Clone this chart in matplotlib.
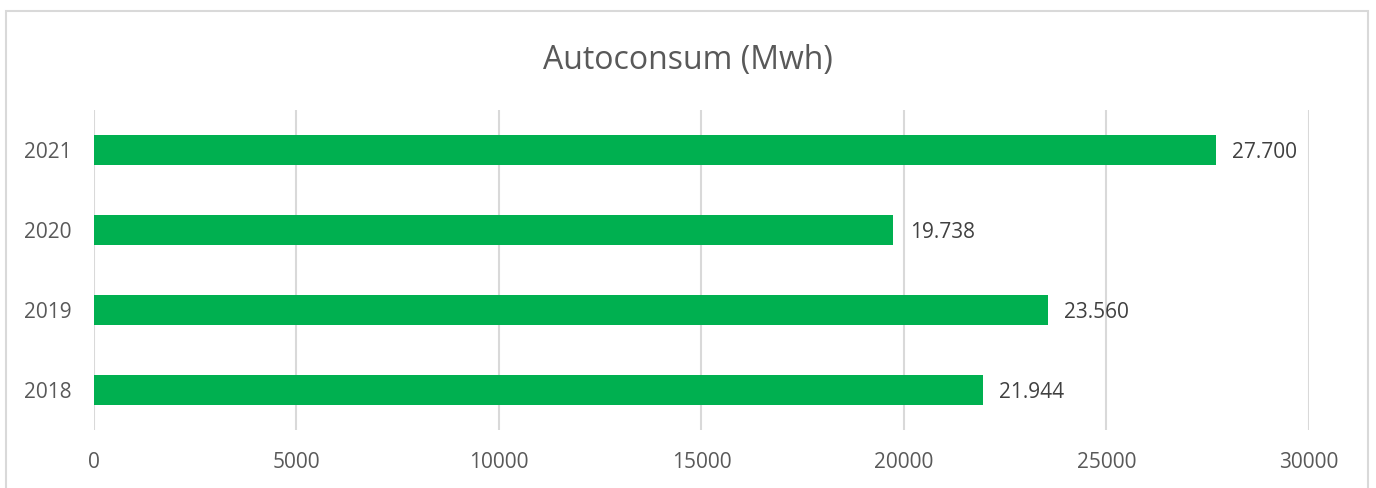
import matplotlib.pyplot as plt
from matplotlib.patches import Rectangle

plt.rcParams['font.family'] = ['Open Sans', 'DejaVu Sans']

years = ["2018", "2019", "2020", "2021"]
values = [21944, 23560, 19738, 27700]
labels = ["21.944", "23.560", "19.738", "27.700"]

fig = plt.figure(figsize=(13.76, 4.88), dpi=100)
ax = fig.add_axes([0.0683, 0.1189, 0.8830, 0.6557])

# outer chart border
fig.patches.append(Rectangle((6 / 1376, -0.1), 1362 / 1376, 1 - 11 / 488 + 0.1,
                             transform=fig.transFigure, fill=False,
                             edgecolor="#D9D9D9", linewidth=1.5))

ypos = range(len(years))
ax.barh(ypos, values, height=0.375, color="#00B050", zorder=3)
for y, v, t in zip(ypos, values, labels):
    ax.text(v + 400, y, t, va="center_baseline", ha="left", fontsize=15,
            color="#404040")

ax.set_xlim(0, 30000)
ax.set_ylim(-0.5, 3.5)
ax.set_xticks(range(0, 30001, 5000))
ax.set_yticks(list(ypos))
ax.set_yticklabels(years)
ax.tick_params(length=0, labelsize=15, colors="#595959")
ax.tick_params(axis="x", pad=16)
ax.tick_params(axis="y", pad=16)
ax.grid(axis="x", color="#D9D9D9", linewidth=1.5, zorder=0)
for s in ax.spines.values():
    s.set_visible(False)

fig.text(0.5, 1 - 60 / 488, "Autoconsum (Mwh)", ha="center", va="center",
         fontsize=23, color="#595959")

fig.savefig("out.png", dpi=100)
